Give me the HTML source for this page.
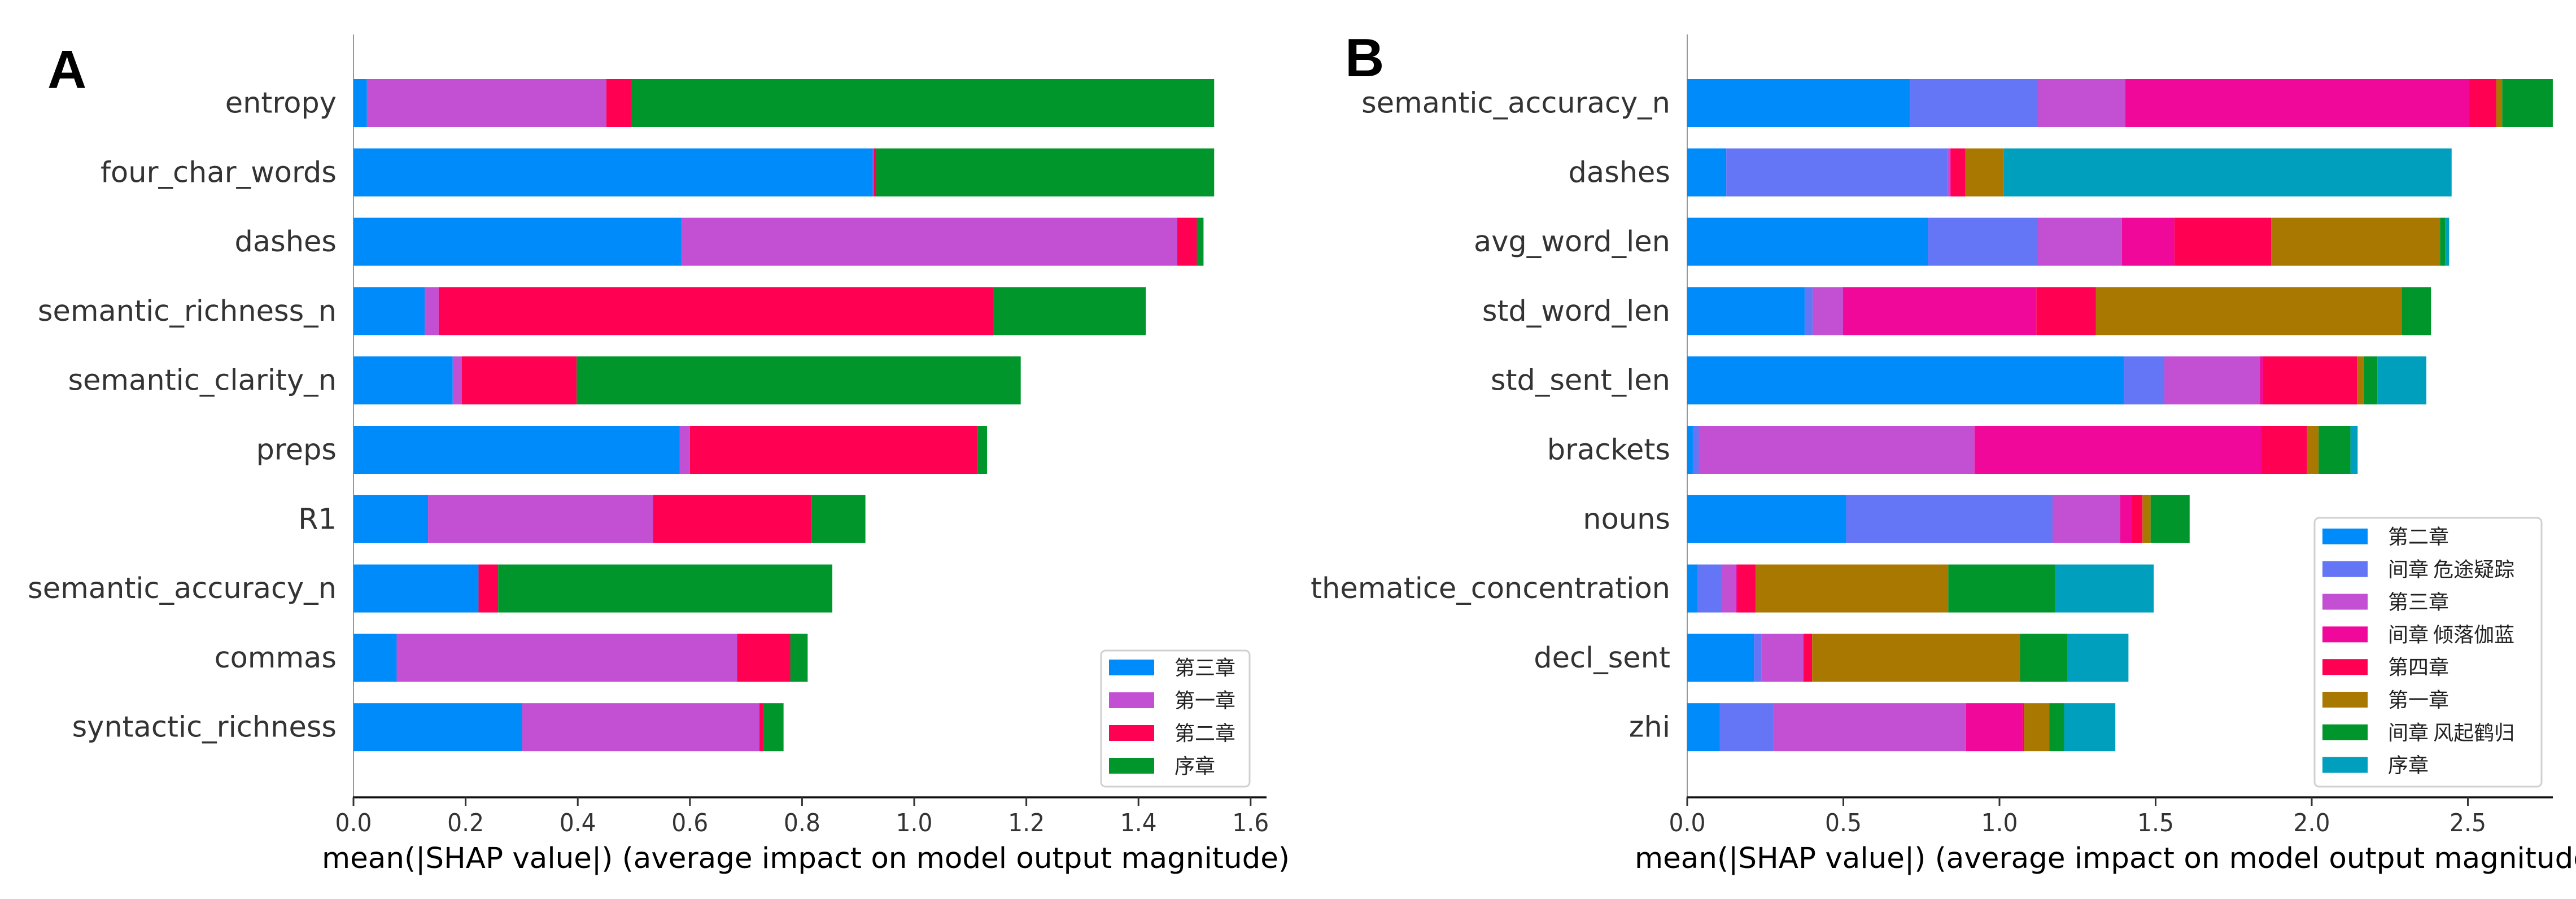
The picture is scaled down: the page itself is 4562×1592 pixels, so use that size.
<!DOCTYPE html>
<html><head><meta charset="utf-8"><style>
html,body{margin:0;padding:0;background:#fff;}
svg{display:block;}
text{font-family:"DejaVu Sans","Liberation Sans","Noto Sans CJK SC",sans-serif;}
.cjk{font-family:"Noto Sans CJK SC","WenQuanYi Zen Hei",sans-serif;}
</style></head><body>
<svg id="fig" width="4562" height="1592" viewBox="0 0 4562 1592" xmlns="http://www.w3.org/2000/svg">
<rect width="4562" height="1592" fill="#fff"/>
<text x="84" y="156" font-size="96" font-weight="bold" style="font-family:'Liberation Sans',sans-serif" fill="#000">A</text>
<text x="2382" y="135" font-size="96" font-weight="bold" style="font-family:'Liberation Sans',sans-serif" fill="#000">B</text>
<g id="panelA"></g>
<g id="panelB"></g>
</svg>
<script>
// ---------- Panel A data ----------
const featuresA = ["entropy","four_char_words","dashes","semantic_richness_n","semantic_clarity_n","preps","R1","semantic_accuracy_n","commas","syntactic_richness"];
const seriesNamesA = ["第三章","第一章","第二章","序章"];
const seriesColorsA = ["#008bfb","#c34fd3","#ff0052","#00962b"];
const a_third  = [0.024,0.926,0.585,0.127,0.177,0.582,0.133,0.223,0.077,0.301];
const a_first  = [0.427,0.002,0.884,0.025,0.016,0.018,0.401,0.000,0.607,0.423];
const a_second = [0.045,0.004,0.035,0.989,0.205,0.513,0.283,0.035,0.095,0.007];
const a_prolog = [1.039,0.603,0.012,0.272,0.792,0.017,0.096,0.596,0.031,0.036];
const ticksA = [0,0.2,0.4,0.6,0.8,1.0,1.2,1.4,1.6];
const tickLabelsA = ["0.0","0.2","0.4","0.6","0.8","1.0","1.2","1.4","1.6"];

// ---------- Panel B data ----------
const featuresB = ["semantic_accuracy_n","dashes","avg_word_len","std_word_len","std_sent_len","brackets","nouns","thematice_concentration","decl_sent","zhi"];
const seriesNamesB = ["第二章","间章  危途疑踪","第三章","间章  倾落伽蓝","第四章","第一章","间章  风起鹤归","序章"];
const seriesColorsB = ["#008bfb","#6476f5","#c34fd3","#f0089a","#ff0052","#a87800","#00962b","#009fbd"];
const b_ch2   = [0.713,0.125,0.771,0.376,1.398,0.018,0.509,0.034,0.214,0.104];
const b_weitu = [0.410,0.708,0.352,0.026,0.130,0.019,0.661,0.078,0.024,0.173];
const b_ch3   = [0.280,0.008,0.269,0.097,0.306,0.883,0.217,0.045,0.133,0.616];
const b_qingluo=[1.100,0.003,0.168,0.619,0.010,0.919,0.037,0.003,0.003,0.181];
const b_ch4   = [0.088,0.047,0.310,0.191,0.301,0.146,0.034,0.059,0.026,0.005];
const b_ch1   = [0.019,0.123,0.541,0.979,0.021,0.037,0.026,0.617,0.666,0.081];
const b_fengqi= [0.162,0.000,0.016,0.094,0.044,0.102,0.125,0.342,0.151,0.047];
const b_prolog= [0.000,1.434,0.013,0.000,0.157,0.023,0.000,0.316,0.196,0.164];
const ticksB = [0,0.5,1.0,1.5,2.0,2.5];
const tickLabelsB = ["0.0","0.5","1.0","1.5","2.0","2.5"];

const NS = "http://www.w3.org/2000/svg";
function mk(tag, attrs, parent){
  const e = document.createElementNS(NS, tag);
  for (const k in attrs) e.setAttribute(k, attrs[k]);
  parent.appendChild(e);
  return e;
}

function drawPanel(g, cfg){
  const xScale = v => cfg.x0 + v * cfg.unit;
  const rowTop = 61, rowStep = 122.8, firstCenter = 182.5, barH = 85;
  const yScale = i => firstCenter + i * rowStep;
  // left spine
  const spine = mk("line",{x1:cfg.x0,y1:rowTop,x2:cfg.x0,y2:1412,stroke:"#999","stroke-width":2},g);
  
  
  // bars
  cfg.features.forEach((f,i)=>{
    let acc = 0;
    cfg.series.forEach((arr,s)=>{
      const v = arr[i];
      if (v > 0){
        const r = mk("rect",{x:xScale(acc),y:yScale(i)-barH/2,width:v*cfg.unit,height:barH,fill:cfg.colors[s]},g);
        
        
      }
      acc += v;
    });
    const t = mk("text",{x:cfg.x0-30,y:yScale(i)+17,"text-anchor":"end","font-size":51,fill:"#333"},g);
    t.textContent = f;
    
    
  });
  // x axis
  const ax = mk("line",{x1:cfg.x0-1,y1:1412,x2:cfg.axisEnd,y2:1412,stroke:"#111","stroke-width":3.5},g);
  
  
  cfg.ticks.forEach((tv,k)=>{
    const x = xScale(tv);
    const tk = mk("line",{x1:x,y1:1412,x2:x,y2:1427,stroke:"#333","stroke-width":3},g);
    
    
    const tl = mk("text",{x:x,y:1472,"text-anchor":"middle","font-size":44,fill:"#333",textLength:65,lengthAdjust:"spacingAndGlyphs"},g);
    tl.textContent = cfg.tickLabels[k];
    
    
  });
  const title = mk("text",{x:cfg.titleX,y:1537,"font-size":51,fill:"#000",textLength:1714,lengthAdjust:"spacingAndGlyphs"},g);
  title.textContent = "mean(|SHAP value|) (average impact on model output magnitude)";
  
  
  // legend
  const L = cfg.legend;
  const lg = mk("g",{},g);
  
  
  mk("rect",{x:L.x,y:L.y,width:L.w,height:L.h,rx:8,fill:"#fff",stroke:"#d0d0d0","stroke-width":3},lg);
  cfg.names.forEach((n,s)=>{
    const cy = L.firstY + s*L.step;
    const sw = mk("rect",{x:L.x+14,y:cy-14,width:80,height:28,fill:cfg.colors[s]},lg);
    
    
    const lt = mk("text",{x:L.x+130,y:cy+13,"font-size":36,fill:"#222","class":"cjk"},lg);
    lt.setAttribute("xml:space","preserve");
    lt.textContent = n;
    
    
  });
}

drawPanel(document.getElementById("panelA"),{
  x0:626, unit:993, axisEnd:2243, titleX:570,
  features:featuresA, series:[a_third,a_first,a_second,a_prolog],
  colors:seriesColorsA, names:seriesNamesA, ticks:ticksA, tickLabels:tickLabelsA,
  legend:{x:1950,y:1152,w:263,h:241,firstY:1182,step:58}
});
drawPanel(document.getElementById("panelB"),{
  x0:2988, unit:553, axisEnd:4521, titleX:2895,
  features:featuresB, series:[b_ch2,b_weitu,b_ch3,b_qingluo,b_ch4,b_ch1,b_fengqi,b_prolog],
  colors:seriesColorsB, names:seriesNamesB, ticks:ticksB, tickLabels:tickLabelsB,
  legend:{x:4099,y:917,w:402,h:476,firstY:950,step:57.8}
});
</script>
</body></html>
